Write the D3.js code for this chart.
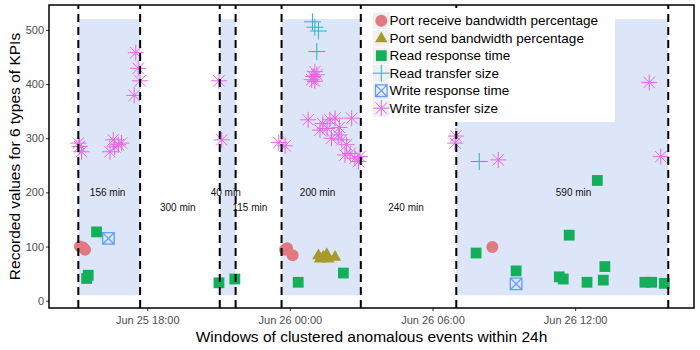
<!DOCTYPE html>
<html>
<head>
<meta charset="utf-8">
<script src="https://cdn.jsdelivr.net/npm/d3@7"></script>
<style>
  body { margin: 0; background: #fff; }
  svg { display: block; font-family: "Liberation Sans", Arial, sans-serif; }
</style>
</head>
<body>
<svg id="chart" width="700" height="350"></svg>
<script>
'use strict';

// windows of clustered anomalous events
var windowStarts = ['06-25 15:06', '06-25 21:03', '06-25 23:39', '06-26 07:00'];
var windowEnds = ['06-25 17:42', '06-25 21:43', '06-26 02:59', '06-26 15:55'];
var windowLabels = ['156 min', '40 min', '200 min', '590 min'];
var windowLabelTimes = ['06-25 16:20', '06-25 21:18', '06-26 01:10', '06-26 11:56'];
var gapLabels = ['300 min', '115 min', '240 min'];
var gapLabelTimes = ['06-25 19:17', '06-25 22:19', '06-26 04:53'];

// [time, value] per KPI
var portReceive = [
    ['06-25 15:10', 100], ['06-25 15:18', 98], ['06-25 15:23', 94],
    ['06-25 23:48', 94], ['06-25 23:53', 97], ['06-26 00:07', 84],
    ['06-26 08:31', 99]
];
var portSend = [
    ['06-26 01:12', 84], ['06-26 01:16', 78], ['06-26 01:24', 81],
    ['06-26 01:33', 86], ['06-26 01:37', 78], ['06-26 01:54', 81]
];
var readResponse = [
    ['06-25 15:27', 41], ['06-25 15:31', 47], ['06-25 15:52', 127],
    ['06-25 21:01', 33], ['06-25 21:41', 40], ['06-26 00:21', 34],
    ['06-26 02:15', 51], ['06-26 07:50', 88], ['06-26 09:31', 55],
    ['06-26 11:20', 44], ['06-26 11:30', 40], ['06-26 11:45', 121],
    ['06-26 12:30', 34], ['06-26 12:56', 222], ['06-26 13:11', 38],
    ['06-26 13:15', 63], ['06-26 14:56', 34], ['06-26 15:13', 34],
    ['06-26 15:45', 32]
];
var readTransfer = [
    ['06-26 00:57', 515], ['06-26 01:03', 505], ['06-26 01:12', 498],
    ['06-26 01:08', 460], ['06-26 07:58', 257]
];
var writeResponse = [
    ['06-25 16:22', 115], ['06-26 09:31', 31]
];
var writeTransfer = [
    ['06-25 15:06', 291], ['06-25 15:09', 285], ['06-25 15:14', 275],
    ['06-25 16:26', 275], ['06-25 16:34', 297], ['06-25 16:38', 284],
    ['06-25 16:47', 288], ['06-25 16:55', 291],
    ['06-25 17:27', 379], ['06-25 17:31', 458], ['06-25 17:37', 429], ['06-25 17:42', 406],
    ['06-25 21:01', 406], ['06-25 21:08', 297],
    ['06-25 23:32', 292], ['06-25 23:48', 286],
    ['06-26 00:55', 408], ['06-26 00:59', 414], ['06-26 01:03', 423],
    ['06-26 01:03', 405], ['06-26 01:08', 417],
    ['06-26 00:46', 334], ['06-26 01:16', 315], ['06-26 01:23', 327],
    ['06-26 01:34', 318], ['06-26 01:41', 334], ['06-26 01:45', 300],
    ['06-26 01:54', 337], ['06-26 02:02', 306], ['06-26 02:05', 320],
    ['06-26 02:11', 297], ['06-26 02:19', 269], ['06-26 02:23', 288],
    ['06-26 02:32', 272], ['06-26 02:36', 337], ['06-26 02:44', 263],
    ['06-26 02:53', 257], ['06-26 02:57', 266],
    ['06-26 06:57', 291], ['06-26 06:59', 304], ['06-26 08:46', 260],
    ['06-26 15:07', 403], ['06-26 15:36', 266]
];
var seriesNames = [
    'Port receive bandwidth percentage',
    'Port send bandwidth percentage',
    'Read response time',
    'Read transfer size',
    'Write response time',
    'Write transfer size'
];
var yTicks = [0, 100, 200, 300, 400, 500];

(function () {
    var parse = d3.timeParse('%Y-%m-%d %H:%M');
    var t = function (s) { return parse('2016-' + s); };

    var margin = { top: 5, right: 6, bottom: 42, left: 49 },
        width = 700 - margin.left - margin.right,
        height = 350 - margin.top - margin.bottom;

    var svg = d3.select('#chart');
    var g = svg.append('g').attr('transform', 'translate(' + margin.left + ',' + margin.top + ')');

    var x = d3.scaleTime().domain([t('06-25 13:52'), t('06-26 17:00')]).range([0, width]);
    var y = d3.scaleLinear().domain([-13.5, 546]).range([height, 0]);

    // shaded windows
    g.selectAll('rect.win').data(windowStarts).enter().append('rect')
        .attr('class', 'win')
        .attr('x', function (d) { return x(t(d)); })
        .attr('width', function (d, i) { return x(t(windowEnds[i])) - x(t(d)); })
        .attr('y', y(520))
        .attr('height', y(10) - y(520))
        .attr('fill', '#dde6f8');

    // duration labels
    g.selectAll('text.wl').data(windowLabels).enter().append('text')
        .attr('x', function (d, i) { return x(t(windowLabelTimes[i])); })
        .attr('y', y(200))
        .attr('dy', '0.35em')
        .attr('text-anchor', 'middle')
        .attr('font-size', 10)
        .attr('fill', '#111')
        .text(function (d) { return d; });
    g.selectAll('text.gl').data(gapLabels).enter().append('text')
        .attr('x', function (d, i) { return x(t(gapLabelTimes[i])); })
        .attr('y', y(173))
        .attr('dy', '0.35em')
        .attr('text-anchor', 'middle')
        .attr('font-size', 10)
        .attr('fill', '#111')
        .text(function (d) { return d; });

    // marker shapes
    var colors = ['#e07a80', '#a89a28', '#14af5a', '#1ab9cc', '#619cff', '#e766e2'];
    function shape(i) {
        if (i === 0) return d3.symbol(d3.symbolCircle, 113)();
        if (i === 1) return 'M0,-6.8L6.2,4L-6.2,4Z';
        if (i === 2) return 'M-5.4,-5.4H5.4V5.4H-5.4Z';
        if (i === 3) return 'M-8.5,0H8.5M0,-8.5V8.5';
        if (i === 4) return 'M-5.8,-5.8H5.8V5.8H-5.8ZM-5.8,-5.8L5.8,5.8M5.8,-5.8L-5.8,5.8';
        return 'M-8,0H8M0,-8V8M-5.7,-5.7L5.7,5.7M5.7,-5.7L-5.7,5.7';
    }
    function styleMark(sel, i) {
        var filled = i < 3;
        sel.attr('d', shape(i))
            .attr('fill', filled ? colors[i] : 'none')
            .attr('stroke', filled ? 'none' : colors[i])
            .attr('stroke-width', i === 4 ? 1.3 : 1);
    }

    var allSeries = [portReceive, portSend, readResponse, readTransfer, writeResponse, writeTransfer];
    allSeries.forEach(function (data, i) {
        g.append('g').selectAll('path').data(data).enter().append('path')
            .attr('transform', function (d) { return 'translate(' + x(t(d[0])) + ',' + y(d[1]) + ')'; })
            .call(styleMark, i);
    });

    // window boundaries
    var bounds = windowStarts.concat(windowEnds);
    g.selectAll('line.vb').data(bounds).enter().append('line')
        .attr('x1', function (d) { return x(t(d)); })
        .attr('x2', function (d) { return x(t(d)); })
        .attr('y1', height)
        .attr('y2', 0)
        .attr('stroke', '#000')
        .attr('stroke-width', 2)
        .attr('stroke-dasharray', '8,5');

    // axes
    var xAxis = g.append('g').attr('transform', 'translate(0,' + height + ')')
        .call(d3.axisBottom(x).ticks(d3.timeHour.every(6)).tickFormat(d3.timeFormat('%b %d %H:%M')).tickSize(3).tickPadding(5));
    var yAxis = g.append('g')
        .call(d3.axisLeft(y).tickValues(yTicks).tickSize(3).tickPadding(2));
    [xAxis, yAxis].forEach(function (a) {
        a.attr('font-family', null).attr('font-size', 11);
        a.select('.domain').remove();
        a.selectAll('.tick line').attr('stroke', '#333').attr('stroke-width', 1);
        a.selectAll('.tick text').attr('fill', '#4d4d4d');
    });

    g.append('rect')
        .attr('width', width).attr('height', height)
        .attr('fill', 'none').attr('stroke', '#000').attr('stroke-width', 1.5);

    // titles
    svg.append('text')
        .attr('x', margin.left + width / 2)
        .attr('y', 342)
        .attr('text-anchor', 'middle')
        .attr('font-size', 15.5)
        .text('Windows of clustered anomalous events within 24h');
    svg.append('text')
        .attr('transform', 'translate(20,' + (margin.top + height / 2) + ')rotate(-90)')
        .attr('text-anchor', 'middle')
        .attr('font-size', 15.5)
        .text('Recorded values for 6 types of KPIs');

    // legend
    var legend = svg.append('g').attr('transform', 'translate(368,8)');
    legend.append('rect').attr('width', 247).attr('height', 114).attr('fill', '#fff');
    var item = legend.selectAll('g.item').data(seriesNames).enter().append('g')
        .attr('transform', function (d, i) { return 'translate(0,' + (12.7 + i * 17.5) + ')'; });
    item.append('rect')
        .attr('x', 5).attr('y', -8.3).attr('width', 16.5).attr('height', 16.6)
        .attr('fill', '#f0f0f0');
    item.append('path')
        .attr('transform', 'translate(13.3,0)')
        .each(function (d, i) { d3.select(this).call(styleMark, i); });
    item.append('text')
        .attr('x', 21.5)
        .attr('dy', '0.35em')
        .attr('font-size', 13.5)
        .attr('fill', '#000')
        .text(function (d) { return d; });
})();
</script>
</body>
</html>
